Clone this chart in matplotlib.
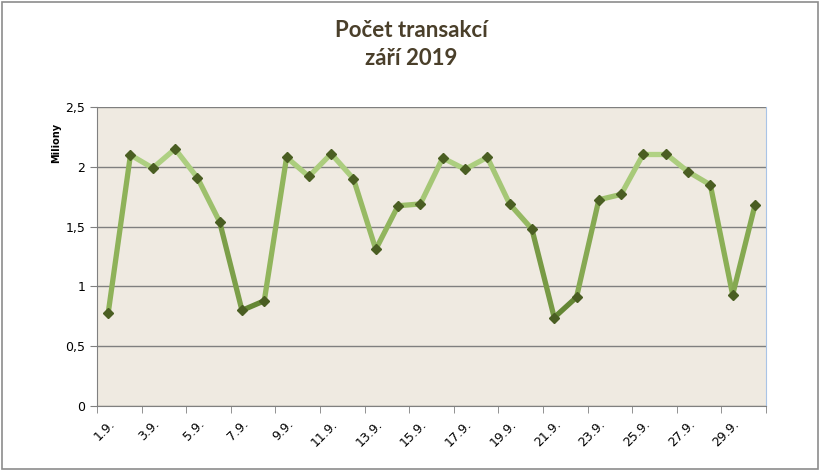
import matplotlib
matplotlib.use('Agg')
import matplotlib.pyplot as plt
import numpy as np
from matplotlib.collections import LineCollection
from matplotlib.colors import LinearSegmentedColormap
from matplotlib.ticker import FuncFormatter
from matplotlib.patches import Rectangle

days = list(range(1, 31))
transakce = [0.775, 2.10, 1.99, 2.15, 1.91, 1.54, 0.80, 0.88, 2.08, 1.92,
             2.11, 1.90, 1.31, 1.675, 1.69, 2.075, 1.98, 2.08, 1.69, 1.48,
             0.74, 0.91, 1.725, 1.77, 2.11, 2.11, 1.96, 1.85, 0.93, 1.68]
tick_labels = ['%d.9.' % d for d in days[::2]]

fig = plt.figure(figsize=(8.22, 4.76), dpi=100)
ax = fig.add_axes([0.118, 0.147, 0.814, 0.628])
ax.set_facecolor('#efeae1')

x = np.arange(len(days))
y = np.array(transakce)

# line with vertical colour gradient (dark at bottom, light at top)
cmap = LinearSegmentedColormap.from_list('g', ['#5c7d2c', '#8fb35a', '#b5d68a'])
pts = np.column_stack([x, y]).reshape(-1, 1, 2)
segs = np.concatenate([pts[:-1], pts[1:]], axis=1)
mid = (y[:-1] + y[1:]) / 2
lc = LineCollection(segs, cmap=cmap, norm=plt.Normalize(0.7, 2.2),
                    linewidth=3.8, capstyle='round', joinstyle='round', zorder=3)
lc.set_array(mid)
ax.add_collection(lc)
ax.plot(x, y, linestyle='none', marker='D', markersize=5.5,
        color='#4a5e22', zorder=4)

ax.set_xlim(-0.5, len(days) - 0.5)
ax.set_ylim(0, 2.5)
ax.set_yticks([0, 0.5, 1, 1.5, 2, 2.5])
ax.yaxis.set_major_formatter(FuncFormatter(lambda v, p: ('%g' % v).replace('.', ',')))
ax.grid(axis='y', color='#7f7f7f', linewidth=1)
ax.set_axisbelow(True)

# labels on every other day, tick marks between categories
ax.set_xticks(x[::2])
ax.set_xticklabels(tick_labels, rotation=45, ha='right', rotation_mode='anchor', fontsize=9)
ax.tick_params(axis='x', length=0, pad=8)
ax.set_xticks(np.arange(-0.5, len(days), 2), minor=True)
ax.tick_params(axis='x', which='minor', length=5, color='#808080')
ax.tick_params(axis='y', length=5, color='#808080', labelsize=9)

ax.spines['top'].set_visible(False)
ax.spines['left'].set_color('#808080')
ax.spines['bottom'].set_color('#808080')
ax.spines['right'].set_color('#a9c4e6')

fig.text(0.068, 0.70, 'Miliony', rotation=90, fontsize=7, fontweight='bold',
         ha='center', va='center')
fig.text(0.5, 0.935, 'Počet transakcí', fontsize=16, fontweight='bold',
         color='#4a3f2a', ha='center', va='center', family='Lato')
fig.text(0.5, 0.878, 'září 2019', fontsize=16, fontweight='bold',
         color='#4a3f2a', ha='center', va='center', family='Lato')

fig.add_artist(Rectangle((0.003, 0.015), 0.992, 0.98, transform=fig.transFigure,
                         fill=False, edgecolor='#8c8c8c', linewidth=1.2))

fig.savefig('out.png', dpi=100)
